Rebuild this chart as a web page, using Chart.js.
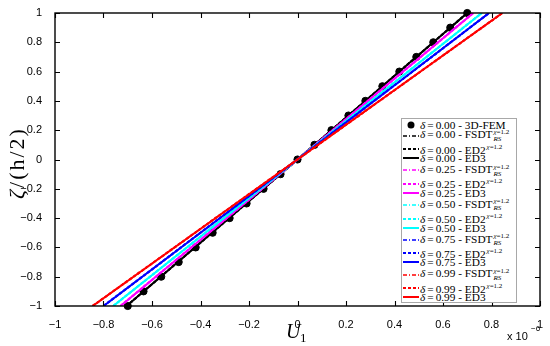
<!DOCTYPE html>
<html>
<head>
<meta charset="utf-8">
<script src="https://cdn.jsdelivr.net/npm/chart.js@4.4.0/dist/chart.umd.min.js"></script>
<style>
  body { margin: 0; background: #fff; }
  #wrap { position: relative; width: 550px; height: 346px; }
  #chart { position: absolute; left: 0; top: 0; }
  #legend {
    position: absolute; left: 401px; top: 118px; width: 116px; height: 185px;
    box-sizing: border-box; border: 1px solid #a8a8a8; background: #fff;
    font-family: 'Liberation Serif', serif; font-size: 11.3px; color: #000;
    overflow: hidden;
  }
  .row { position: absolute; left: 1px; height: 12px; display: flex; align-items: center; white-space: nowrap; }
  .row svg { flex: none; margin-right: 1px; }
  .eq { margin: 0 2px; }
  .ss { display: inline-flex; flex-direction: column; font-size: 7px; line-height: 7px; vertical-align: middle; margin-left: 1px; }
  .sup { font-size: 7px; vertical-align: 5px; margin-left: 1px; }
</style>
</head>
<body>
<div id="wrap">
  <canvas id="chart" width="550" height="346"></canvas>
  <div id="legend"></div>
</div>
<script>
// Données (U1 en unités de 1e-6)
const deltaLabels = ['0.00', '0.25', '0.50', '0.75', '0.99'];
const deltaColors = ['#000000', '#ff00ff', '#00ffff', '#0000ff', '#ff0000'];

const zetaFem = [-1, -0.9, -0.8, -0.7, -0.6, -0.5, -0.4, -0.3, -0.2, -0.1, 0, 0.1, 0.2, 0.3, 0.4, 0.5, 0.6, 0.7, 0.8, 0.9, 1];
const u1Fem = [-0.70, -0.635, -0.562, -0.49, -0.42, -0.35, -0.28, -0.21, -0.14, -0.07, 0, 0.07, 0.14, 0.21, 0.28, 0.35, 0.42, 0.49, 0.56, 0.63, 0.70];

const zetaLine = [-1, 0, 1];
const u1Fsdt = [[-0.705, 0, 0.70], [-0.73, 0, 0.725], [-0.76, 0, 0.76], [-0.80, 0, 0.79], [-0.845, 0, 0.845]];
const u1Ed2 = [[-0.705, 0, 0.70], [-0.73, 0, 0.725], [-0.76, 0, 0.76], [-0.80, 0, 0.79], [-0.845, 0, 0.845]];
const u1Ed3 = [[-0.705, 0, 0.70], [-0.73, 0, 0.725], [-0.76, 0, 0.76], [-0.80, 0, 0.79], [-0.845, 0, 0.845]];

const xTickValues = [-1, -0.8, -0.6, -0.4, -0.2, 0, 0.2, 0.4, 0.6, 0.8, 1];
const yTickValues = [-1, -0.8, -0.6, -0.4, -0.2, 0, 0.2, 0.4, 0.6, 0.8, 1];

// Styles des modèles
const models = [
  { key: 'FSDT', values: u1Fsdt, dash: [4, 2, 1, 2], width: 1.6 },
  { key: 'ED2', values: u1Ed2, dash: [3, 2], width: 2.2 },
  { key: 'ED3', values: u1Ed3, dash: [], width: 2 }
];

function toPoints(xs, ys) {
  return xs.map((v, i) => ({ x: v, y: ys[i] }));
}

function fmtTick(v) {
  if (v === 0) return '0';
  return (v < 0 ? '\u2212' : '') + String(Math.abs(v));
}

// Construction des séries
const datasets = [];
datasets.push({
  label: '3D-FEM',
  data: toPoints(u1Fem, zetaFem),
  showLine: false,
  pointRadius: 3.6,
  pointBackgroundColor: '#000',
  pointBorderColor: '#000',
  clip: false
});
deltaLabels.forEach((d, i) => {
  models.forEach(m => {
    datasets.push({
      label: d + ' ' + m.key,
      data: toPoints(m.values[i], zetaLine),
      borderColor: deltaColors[i],
      borderWidth: m.width,
      borderDash: m.dash,
      pointRadius: 0,
      fill: false
    });
  });
});
// les dernières séries au-dessus (comme MATLAB)
datasets.forEach((ds, i) => { ds.order = datasets.length - i; });

// Cadre, graduations intérieures et titres des axes
const framePlugin = {
  id: 'frame',
  afterDraw(chart) {
    const ctx = chart.ctx;
    const a = chart.chartArea;
    const x = chart.scales.x;
    const y = chart.scales.y;
    ctx.save();
    ctx.strokeStyle = '#000';
    ctx.lineWidth = 1.4;
    ctx.strokeRect(a.left, a.top, a.right - a.left, a.bottom - a.top);
    ctx.lineWidth = 1.1;
    ctx.beginPath();
    xTickValues.forEach(v => {
      const px = Math.round(x.getPixelForValue(v)) + 0.5;
      ctx.moveTo(px, a.bottom); ctx.lineTo(px, a.bottom - 5);
      ctx.moveTo(px, a.top); ctx.lineTo(px, a.top + 5);
    });
    yTickValues.forEach(v => {
      const py = Math.round(y.getPixelForValue(v)) + 0.5;
      ctx.moveTo(a.left, py); ctx.lineTo(a.left + 5, py);
      ctx.moveTo(a.right, py); ctx.lineTo(a.right - 5, py);
    });
    ctx.stroke();

    ctx.fillStyle = '#000';
    // U_1
    ctx.textBaseline = 'alphabetic';
    ctx.textAlign = 'left';
    ctx.font = 'italic 20px "Liberation Serif", serif';
    ctx.fillText('U', 286, 338);
    ctx.font = '13px "Liberation Serif", serif';
    ctx.fillText('1', 300, 342);

    // zeta/(h/2)
    ctx.save();
    ctx.translate(24, 163);
    ctx.rotate(-Math.PI / 2);
    ctx.letterSpacing = '2px';
    ctx.font = 'italic 22px "Liberation Serif", serif';
    const zw = ctx.measureText('\u03b6').width;
    ctx.font = '22px "Liberation Serif", serif';
    const rw = ctx.measureText('/(h/2)').width;
    const x0 = -(zw + rw) / 2;
    ctx.font = 'italic 22px "Liberation Serif", serif';
    ctx.fillText('\u03b6', x0, 0);
    ctx.font = '22px "Liberation Serif", serif';
    ctx.fillText('/(h/2)', x0 + zw, 0);
    ctx.restore();

    // x 10^-6
    ctx.font = '11px "Liberation Sans", Arial, sans-serif';
    ctx.fillText('x 10', 507, 340);
    ctx.font = '8px "Liberation Sans", Arial, sans-serif';
    ctx.fillText('\u22126', 531, 331);
    ctx.restore();
  }
};

const tickFont = { family: '"Liberation Sans", Arial, sans-serif', size: 11 };

new Chart(document.getElementById('chart'), {
  type: 'line',
  data: { datasets: datasets },
  options: {
    responsive: false,
    animation: false,
    layout: { padding: { top: 13, right: 10, left: 0, bottom: 0 } },
    plugins: { legend: { display: false }, tooltip: { enabled: false } },
    scales: {
      x: {
        type: 'linear', min: -1, max: 1,
        grid: { display: false },
        border: { display: false },
        afterBuildTicks: s => { s.ticks = xTickValues.map(v => ({ value: v })); },
        afterFit: s => { s.height = 40; },
        ticks: { color: '#000', font: tickFont, padding: 4, maxRotation: 0, autoSkip: false, callback: v => fmtTick(v) }
      },
      y: {
        type: 'linear', min: -1, max: 1,
        grid: { display: false },
        border: { display: false },
        afterBuildTicks: s => { s.ticks = yTickValues.map(v => ({ value: v })); },
        afterFit: s => { s.width = 55; },
        ticks: { color: '#000', font: tickFont, padding: 5, autoSkip: false, callback: v => fmtTick(v) }
      }
    }
  },
  plugins: [framePlugin]
});

// Légende HTML (indices et exposants)
function sample(color, dash, width) {
  const d = dash.length ? ' stroke-dasharray="' + dash.join(' ') + '"' : '';
  return '<svg width="16" height="8"><line x1="0" y1="4" x2="16" y2="4" stroke="' + color + '" stroke-width="' + width + '"' + d + '/></svg>';
}
function row(centerY, symbol, text) {
  return '<div class="row" style="top:' + (centerY - 6) + 'px">' + symbol + '<span>' + text + '</span></div>';
}
function deltaText(d) {
  return '<i>\u03b4</i><span class="eq">=</span>' + d + ' - ';
}
const legend = document.getElementById('legend');
let html = row(5.5, '<svg width="16" height="8"><circle cx="8" cy="4" r="3.5" fill="#000"/></svg>', deltaText('0.00') + '3D-FEM');
deltaLabels.forEach((d, i) => {
  const c = deltaColors[i];
  const top = 16.5 + 34.8 * i;
  html += row(top, sample(c, models[0].dash, models[0].width),
    deltaText(d) + 'FSDT<span class="ss"><span><i>\u03c7</i>=1.2</span><span><i>RS</i></span></span>');
  html += row(top + 13.5, sample(c, models[1].dash, models[1].width),
    deltaText(d) + 'ED2<span class="sup"><i>\u03c7</i>=1.2</span>');
  html += row(top + 22.5, sample(c, models[2].dash, models[2].width),
    deltaText(d) + 'ED3');
});
legend.innerHTML = html;
</script>
</body>
</html>
